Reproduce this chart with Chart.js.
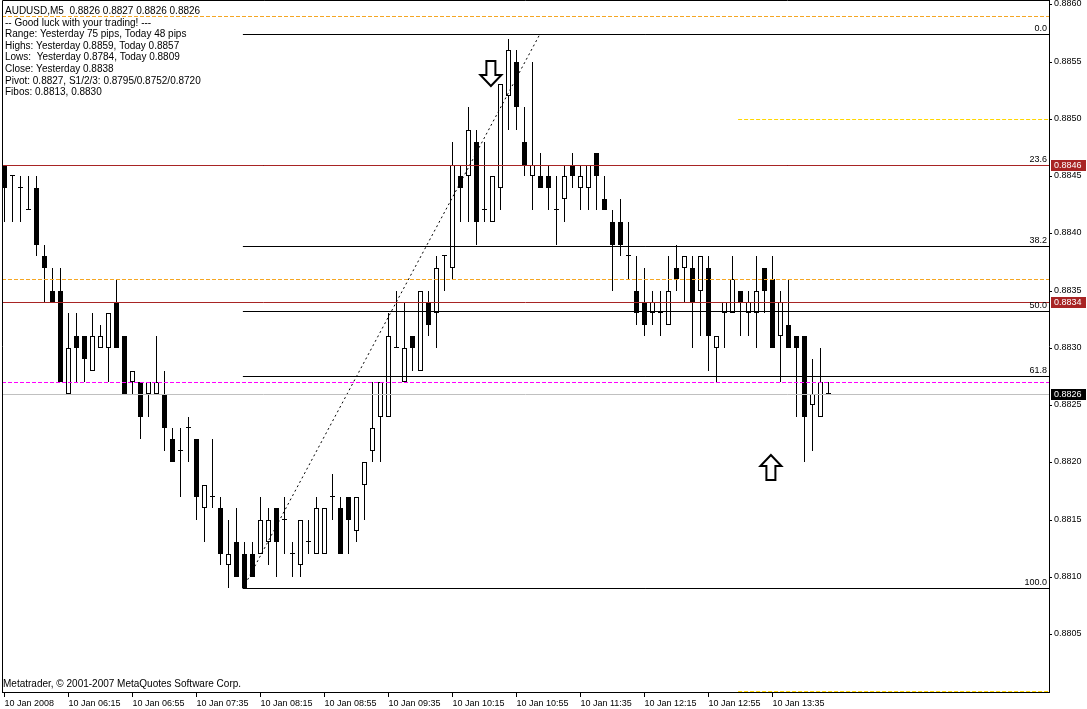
<!DOCTYPE html>
<html>
<head>
<meta charset="utf-8">
<script src="https://cdn.jsdelivr.net/npm/chart.js@4/dist/chart.umd.min.js"></script>
<style>
html, body { margin: 0; padding: 0; background: #fff; overflow: hidden; }
</style>
</head>
<body>
<canvas id="chart" width="1087" height="709"></canvas>
<script>
// AUDUSD M5, 10 Jan 2008, 05:35 .. 14:10
const times = [
  "05:35","05:40","05:45","05:50","05:55","06:00","06:05","06:10",
  "06:15","06:20","06:25","06:30","06:35","06:40","06:45","06:50",
  "06:55","07:00","07:05","07:10","07:15","07:20","07:25","07:30",
  "07:35","07:40","07:45","07:50","07:55","08:00","08:05","08:10",
  "08:15","08:20","08:25","08:30","08:35","08:40","08:45","08:50",
  "08:55","09:00","09:05","09:10","09:15","09:20","09:25","09:30",
  "09:35","09:40","09:45","09:50","09:55","10:00","10:05","10:10",
  "10:15","10:20","10:25","10:30","10:35","10:40","10:45","10:50",
  "10:55","11:00","11:05","11:10","11:15","11:20","11:25","11:30",
  "11:35","11:40","11:45","11:50","11:55","12:00","12:05","12:10",
  "12:15","12:20","12:25","12:30","12:35","12:40","12:45","12:50",
  "12:55","13:00","13:05","13:10","13:15","13:20","13:25","13:30",
  "13:35","13:40","13:45","13:50","13:55","14:00","14:05","14:10"
];

const opens = [
  0.8846,0.8845,0.8844,0.8842,0.8844,0.8838,0.8835,0.8835,
  0.8826,0.8831,0.8831,0.8828,0.8830,0.8830,0.8834,0.8831,
  0.8827,0.8827,0.8826,0.8826,0.8826,0.8822,0.8821,0.8823,
  0.8822,0.8816,0.8817,0.8816,0.8811,0.8813,0.8812,0.8812,
  0.8812,0.8813,0.8816,0.8815,0.8812,0.8811,0.8813,0.8812,
  0.8812,0.8817,0.8816,0.8817,0.8814,0.8818,0.8821,0.8824,
  0.8824,0.8830,0.8827,0.8831,0.8828,0.8834,0.8833,0.8838,
  0.8837,0.8845,0.8845,0.8848,0.8842,0.8841,0.8844,0.8852,
  0.8855,0.8848,0.8845,0.8845,0.8845,0.8842,0.8843,0.8846,
  0.8844,0.8844,0.8847,0.8843,0.8841,0.8841,0.8838,0.8835,
  0.8834,0.8833,0.8833,0.8832,0.8837,0.8837,0.8837,0.8835,
  0.8837,0.8830,0.8833,0.8833,0.8835,0.8833,0.8833,0.8837,
  0.8836,0.8831,0.8832,0.8831,0.8831,0.8825,0.8824,0.8826
];
const highs = [
  0.8846,0.8845,0.8845,0.8845,0.8845,0.8839,0.8837,0.8837,
  0.8833,0.8833,0.8831,0.8833,0.8832,0.8833,0.8836,0.8831,
  0.8828,0.8827,0.8827,0.8831,0.8828,0.8823,0.8823,0.8824,
  0.8822,0.8818,0.8822,0.8817,0.8815,0.8816,0.8813,0.8813,
  0.8817,0.8816,0.8816,0.8817,0.8813,0.8815,0.8815,0.8817,
  0.8816,0.8819,0.8817,0.8817,0.8817,0.8820,0.8827,0.8827,
  0.8833,0.8835,0.8834,0.8831,0.8835,0.8835,0.8838,0.8838,
  0.8848,0.8846,0.8851,0.8849,0.8848,0.8845,0.8853,0.8857,
  0.8856,0.8851,0.8855,0.8847,0.8846,0.8845,0.8846,0.8847,
  0.8846,0.8846,0.8847,0.8845,0.8842,0.8843,0.8841,0.8838,
  0.8837,0.8835,0.8835,0.8838,0.8839,0.8838,0.8838,0.8838,
  0.8838,0.8831,0.8834,0.8838,0.8835,0.8835,0.8838,0.8837,
  0.8838,0.8835,0.8836,0.8831,0.8831,0.8829,0.8830,0.8827
];
const lows = [
  0.8841,0.8841,0.8841,0.8842,0.8838,0.8834,0.8834,0.8827,
  0.8826,0.8827,0.8827,0.8828,0.8830,0.8827,0.8830,0.8826,
  0.8826,0.8822,0.8824,0.8826,0.8821,0.8820,0.8817,0.8820,
  0.8815,0.8813,0.8816,0.8811,0.8809,0.8810,0.8809,0.8810,
  0.8812,0.8811,0.8810,0.8812,0.8810,0.8810,0.8812,0.8812,
  0.8812,0.8815,0.8812,0.8812,0.8813,0.8815,0.8820,0.8820,
  0.8824,0.8830,0.8827,0.8828,0.8828,0.8831,0.8830,0.8835,
  0.8836,0.8841,0.8841,0.8839,0.8841,0.8841,0.8842,0.8849,
  0.8849,0.8845,0.8842,0.8844,0.8842,0.8839,0.8841,0.8844,
  0.8842,0.8842,0.8842,0.8842,0.8835,0.8838,0.8836,0.8832,
  0.8831,0.8832,0.8831,0.8832,0.8835,0.8834,0.8830,0.8831,
  0.8828,0.8827,0.8830,0.8833,0.8831,0.8831,0.8830,0.8833,
  0.8830,0.8827,0.8830,0.8824,0.8820,0.8821,0.8824,0.8826
];
const closes = [
  0.8844,0.8845,0.8844,0.8842,0.8839,0.8837,0.8834,0.8827,
  0.8830,0.8830,0.8829,0.8831,0.8831,0.8833,0.8830,0.8826,
  0.8828,0.8824,0.8827,0.8827,0.8823,0.8820,0.8821,0.8823,
  0.8817,0.8818,0.8817,0.8812,0.8812,0.8810,0.8809,0.8810,
  0.8815,0.8815,0.8813,0.8815,0.8812,0.8815,0.8813,0.8816,
  0.8816,0.8817,0.8812,0.8815,0.8817,0.8820,0.8823,0.8827,
  0.8831,0.8830,0.8830,0.8830,0.8835,0.8832,0.8837,0.8838,
  0.8846,0.8844,0.8849,0.8841,0.8842,0.8845,0.8853,0.8856,
  0.8851,0.8846,0.8846,0.8844,0.8844,0.8842,0.8845,0.8845,
  0.8845,0.8846,0.8845,0.8842,0.8839,0.8839,0.8838,0.8833,
  0.8832,0.8834,0.8833,0.8835,0.8836,0.8838,0.8834,0.8838,
  0.8831,0.8831,0.8834,0.8836,0.8834,0.8834,0.8835,0.8835,
  0.8830,0.8834,0.8830,0.8830,0.8824,0.8826,0.8827,0.8826
];

const priceTicks = [0.8805,0.8810,0.8815,0.8820,0.8825,0.8830,0.8835,0.8840,0.8845,0.8850,0.8855,0.8860];
const firstDateLabel = "10 Jan 2008";
const dayPrefix = "10 Jan ";

// levels on the chart
const orangeLevels = [0.8859, 0.8836];
const goldLevels = [0.8850, 0.8800];
const redLevels = [0.8846, 0.8834];
const pivotLevels = [0.8827];
const bidLevels = [0.8826];
const fibNames = ["0.0", "23.6", "38.2", "50.0", "61.8", "100.0"];
const fibPrices = [0.88574, 0.88460, 0.88389, 0.88332, 0.88275, 0.88090];

const infoLines = [
  "AUDUSD,M5  0.8826 0.8827 0.8826 0.8826",
  "-- Good luck with your trading! ---",
  "Range: Yesterday 75 pips, Today 48 pips",
  "Highs: Yesterday 0.8859, Today 0.8857",
  "Lows:  Yesterday 0.8784, Today 0.8809",
  "Close: Yesterday 0.8838",
  "Pivot: 0.8827, S1/2/3: 0.8795/0.8752/0.8720",
  "Fibos: 0.8813, 0.8830"
];
const copyright = "Metatrader, \u00a9 2001-2007 MetaQuotes Software Corp.";

// view window (bar index / price)
const X_MIN = -0.3125, X_MAX = 130.5625;
const Y_MIN = 0.879994, Y_MAX = 0.886038;
const FIB_FROM = 29.8, FIB_TO = 66.9, GOLD_FROM = 91.7;
const arrowMarks = [
  { x: 60.8, y: 0.88529, dir: "down" },
  { x: 95.8, y: 0.88206, dir: "up" }
];

const FAMILY = "'Liberation Sans', Arial, sans-serif";
const AXIS_SIZE = 9;
const TEXT_FONT = "10px " + FAMILY;
const AXIS_FONT = AXIS_SIZE + "px " + FAMILY;

// price axis that snaps every price to a whole pixel row, like the terminal does
class PipScale extends Chart.LinearScale {
  getPixelForValue(v) { return Math.round(super.getPixelForValue(v)); }
}
PipScale.id = "pip";
PipScale.defaults = Chart.LinearScale.defaults;
Chart.register(PipScale);

function hline(p, color, dash, from, to, order) {
  return {
    type: "line",
    data: [{ x: from, y: p }, { x: to, y: p }],
    borderColor: color,
    borderWidth: 1,
    borderDash: dash,
    pointRadius: 0,
    fill: false,
    order: order
  };
}

const bodies = times.map((t, i) => ({ x: i, y: [opens[i], closes[i]] }));
const wicks = times.map((t, i) => ({ x: i, y: [lows[i], highs[i]] }));

const datasets = [
  {
    type: "bar", label: "body", data: bodies,
    backgroundColor: c => closes[c.dataIndex] > opens[c.dataIndex] ? "#ffffff" : "#000000",
    borderColor: "#000000", borderWidth: 1, borderSkipped: false,
    barThickness: 5, grouped: false, minBarLength: 1, inflateAmount: 0, order: 5
  },
  {
    type: "bar", label: "wick", data: wicks,
    backgroundColor: "#000000", borderWidth: 0,
    barThickness: 1, grouped: false, inflateAmount: 0, order: 6
  }
];
fibPrices.forEach(p => datasets.push(hline(p, "#000000", [], FIB_FROM, X_MAX, 2)));
orangeLevels.forEach(p => datasets.push(hline(p, "#f5a623", [4, 2], X_MIN, X_MAX, 2)));
goldLevels.forEach(p => datasets.push(hline(p, "#ffd700", [4, 2], GOLD_FROM, X_MAX, 2)));
bidLevels.forEach(p => datasets.push(hline(p, "#c0c0c0", [], X_MIN, X_MAX, 2)));
pivotLevels.forEach(p => datasets.push(hline(p, "#ff00ff", [4, 2], X_MIN, X_MAX, 1)));
redLevels.forEach(p => datasets.push(hline(p, "#a82424", [], X_MIN, X_MAX, 0)));
datasets.push({
  type: "line",
  data: [{ x: FIB_FROM, y: fibPrices[5] }, { x: FIB_TO, y: fibPrices[0] }],
  borderColor: "#000000", borderWidth: 1, borderDash: [2, 3],
  pointRadius: 0, fill: false, order: 2
});

// 1px lines sit on half-pixel rows so they stay sharp
const crispLines = {
  id: "crispLines",
  beforeDatasetDraw(chart, args) {
    if (args.meta.type === "line") { chart.ctx.save(); chart.ctx.translate(0, 0.5); }
  },
  afterDatasetDraw(chart, args) {
    if (args.meta.type === "line") chart.ctx.restore();
  }
};

const overlay = {
  id: "overlay",
  afterDraw(chart) {
    const { ctx, chartArea: a, scales: { x, y } } = chart;
    ctx.save();
    // frame
    ctx.strokeStyle = "#000";
    ctx.lineWidth = 1;
    ctx.beginPath();
    ctx.moveTo(a.left + 0.5, a.bottom);
    ctx.lineTo(a.left + 0.5, a.top + 0.5);
    ctx.lineTo(a.right, a.top + 0.5);
    ctx.stroke();

    ctx.font = TEXT_FONT;
    ctx.fillStyle = "#000";
    ctx.textBaseline = "alphabetic";
    ctx.textAlign = "left";
    infoLines.forEach((s, i) => ctx.fillText(s, 5, 14 + i * 11.6));
    ctx.fillText(copyright, 3, 687);

    // fibo level labels
    ctx.font = AXIS_FONT;
    ctx.textAlign = "right";
    fibNames.forEach((s, i) => ctx.fillText(s, a.right - 2, y.getPixelForValue(fibPrices[i]) - 3));

    // price boxes on the axis
    ctx.textAlign = "left";
    ctx.textBaseline = "middle";
    const box = (p, bg) => {
      const py = y.getPixelForValue(p);
      ctx.fillStyle = bg;
      ctx.fillRect(a.right + 2, py - 5, 35, 11);
      ctx.fillStyle = "#fff";
      ctx.fillText(p.toFixed(4), a.right + 5, py + 0.5);
    };
    redLevels.forEach(p => box(p, "#a82424"));
    bidLevels.forEach(p => box(p, "#000000"));

    // arrows
    arrowMarks.forEach(m => {
      const cx = x.getPixelForValue(m.x);
      const ty = y.getPixelForValue(m.y);
      const s = m.dir === "down" ? 1 : -1;
      ctx.beginPath();
      ctx.moveTo(cx, ty);
      ctx.lineTo(cx + 10.5, ty - s * 11);
      ctx.lineTo(cx + 4.5, ty - s * 11);
      ctx.lineTo(cx + 4.5, ty - s * 25);
      ctx.lineTo(cx - 4.5, ty - s * 25);
      ctx.lineTo(cx - 4.5, ty - s * 11);
      ctx.lineTo(cx - 10.5, ty - s * 11);
      ctx.closePath();
      ctx.fillStyle = "#fff";
      ctx.fill();
      ctx.lineWidth = 2;
      ctx.strokeStyle = "#000";
      ctx.stroke();
    });
    ctx.restore();
  }
};

new Chart(document.getElementById("chart"), {
  type: "bar",
  data: { datasets: datasets },
  options: {
    responsive: false,
    animation: false,
    devicePixelRatio: 1,
    layout: { padding: { left: 2, top: 0, right: 0, bottom: 0 } },
    plugins: { legend: { display: false }, tooltip: { enabled: false } },
    scales: {
      x: {
        type: "linear", position: "bottom", min: X_MIN, max: X_MAX,
        bounds: "data", offset: false,
        grid: { drawOnChartArea: false, drawTicks: true, tickLength: 5, tickColor: "#000", offset: false },
        border: { display: true, color: "#000", width: 1 },
        ticks: {
          autoSkip: false, maxRotation: 0, minRotation: 0, align: "start", padding: 1,
          color: "#000", font: { family: FAMILY, size: AXIS_SIZE },
          callback: v => (v === 0 ? firstDateLabel : dayPrefix + times[v])
        },
        afterBuildTicks: s => { s.ticks = times.map((t, i) => i).filter(i => i % 8 === 0).map(i => ({ value: i })); },
        afterFit: s => { s.height = 17; s.paddingLeft = 0; s.paddingRight = 0; }
      },
      y: {
        type: "pip", position: "right", min: Y_MIN, max: Y_MAX, bounds: "data",
        grid: { drawOnChartArea: false, drawTicks: true, tickLength: 3, tickColor: "#000" },
        border: { display: true, color: "#000", width: 1 },
        ticks: { padding: 2, color: "#000", font: { family: FAMILY, size: AXIS_SIZE }, callback: v => v.toFixed(4) },
        afterBuildTicks: s => { s.ticks = priceTicks.map(v => ({ value: v })); },
        afterFit: s => { s.width = 38; s.paddingTop = 0; s.paddingBottom = 0; }
      }
    }
  },
  plugins: [crispLines, overlay]
});
</script>
</body>
</html>
